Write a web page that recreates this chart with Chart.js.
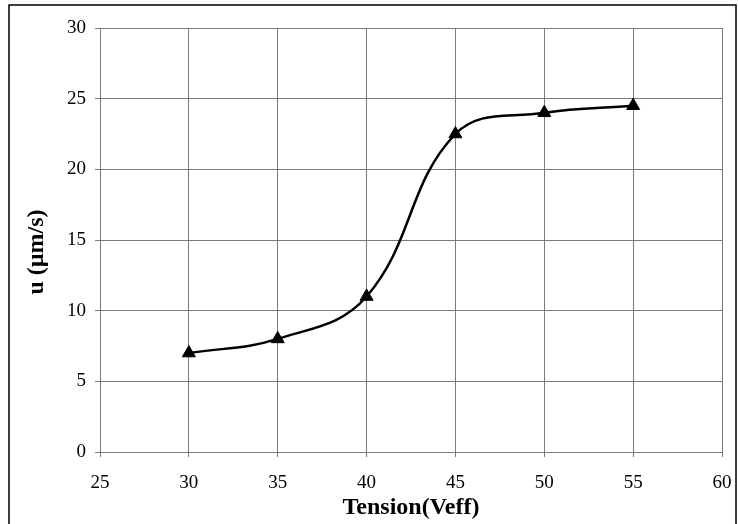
<!DOCTYPE html>
<html>
<head>
<meta charset="utf-8">
<script src="https://cdn.jsdelivr.net/npm/chart.js@4"></script>
<style>
html,body{margin:0;padding:0;background:#fff;}
#wrap{width:738px;height:524px;position:relative;}
</style>
</head>
<body>
<div id="wrap"><canvas id="c" width="738" height="524"></canvas></div>
<script>
const tensionValues = [30, 35, 40, 45, 50, 55];
const speedValues = [7, 8, 11, 22.5, 24, 24.5];
const xTitle = 'Tension(Veff)';
const yTitle = 'u (µm/s)';

const gridColor = '#7a7a7a';

const borderPlugin = {
  id: 'outerBorder',
  afterDraw(chart) {
    const ctx = chart.ctx;
    ctx.save();
    ctx.strokeStyle = '#000';
    ctx.lineWidth = 1.5;
    ctx.strokeRect(9, 5, 727, 540);
    ctx.restore();
  }
};

const yTitlePlugin = {
  id: 'yTitle',
  afterDraw(chart) {
    const ctx = chart.ctx;
    ctx.save();
    ctx.translate(37, 252);
    ctx.rotate(-Math.PI / 2);
    ctx.font = 'bold 24px "Liberation Serif"';
    ctx.fillStyle = '#000';
    ctx.textAlign = 'center';
    ctx.textBaseline = 'middle';
    ctx.fillText(yTitle, 0, 0);
    ctx.restore();
  }
};

new Chart(document.getElementById('c'), {
  type: 'scatter',
  data: {
    datasets: [{
      data: tensionValues.map((x, i) => ({x: x, y: speedValues[i]})),
      showLine: true,
      borderColor: '#000',
      borderWidth: 2.5,
      tension: 0.4,
      pointStyle: 'triangle',
      pointRadius: 7.5,
      pointBackgroundColor: '#000',
      pointBorderColor: '#000',
      pointBorderWidth: 1
    }]
  },
  options: {
    responsive: false,
    animation: false,
    layout: {padding: {top: 28, right: 16, left: 0, bottom: 0}},
    plugins: {legend: {display: false}, tooltip: {enabled: false}},
    scales: {
      x: {
        type: 'linear', min: 25, max: 60,
        ticks: {stepSize: 5, color: '#000', padding: 15, font: {family: 'Liberation Serif', size: 19}},
        grid: {color: gridColor, lineWidth: 1, tickLength: 5, tickColor: gridColor},
        border: {color: gridColor, width: 1},
        title: {display: true, text: xTitle, color: '#000', padding: {top: 0, bottom: 2}, font: {family: 'Liberation Serif', size: 24, weight: 'bold'}},
        afterFit(s) { s.height = 72; s.paddingLeft = 0; s.paddingRight = 0; }
      },
      y: {
        type: 'linear', min: 0, max: 30,
        ticks: {stepSize: 5, color: '#000', padding: 9, font: {family: 'Liberation Serif', size: 19}},
        grid: {color: gridColor, lineWidth: 1, tickLength: 5, tickColor: gridColor},
        border: {color: gridColor, width: 1},
        title: {display: false},
        afterFit(s) { s.width = 100; s.paddingTop = 0; s.paddingBottom = 0; }
      }
    }
  },
  plugins: [borderPlugin, yTitlePlugin, {
    id: 'rightEdge',
    afterDraw(chart) {
      const {ctx, chartArea: a} = chart;
      ctx.save();
      ctx.strokeStyle = gridColor;
      ctx.lineWidth = 1;
      ctx.beginPath();
      ctx.moveTo(a.right + 0.5, a.top);
      ctx.lineTo(a.right + 0.5, a.bottom + 5);
      ctx.stroke();
      ctx.restore();
    }
  }]
});
</script>
</body>
</html>
